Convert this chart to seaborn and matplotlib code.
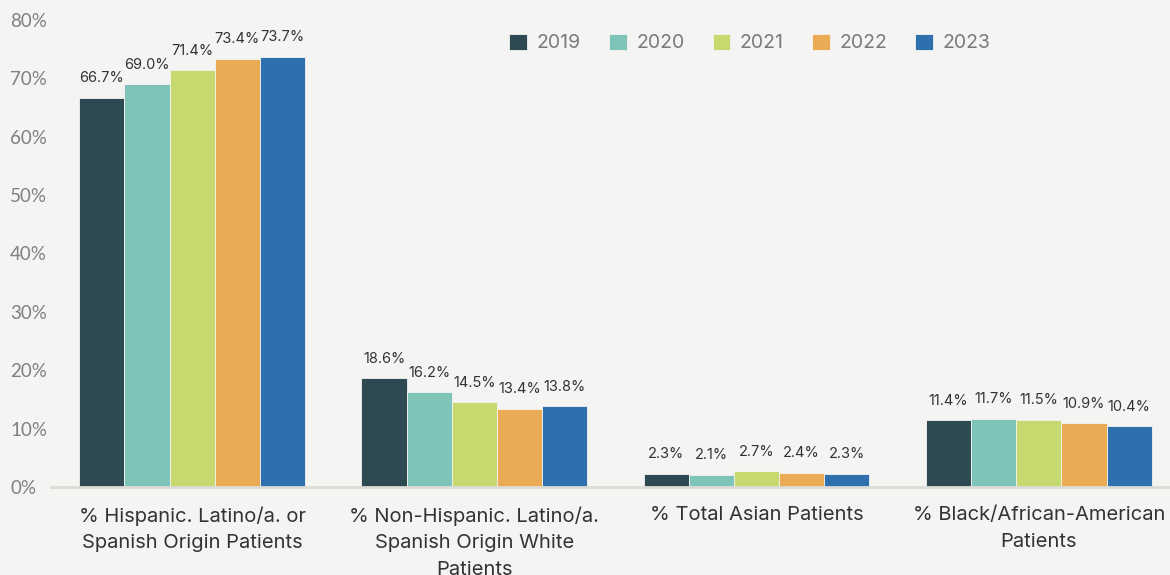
import matplotlib
matplotlib.use("Agg")
import matplotlib.pyplot as plt
import seaborn as sns
import pandas as pd

categories = [
    "% Hispanic. Latino/a. or\nSpanish Origin Patients",
    "% Non-Hispanic. Latino/a.\nSpanish Origin White\nPatients",
    "% Total Asian Patients",
    "% Black/African-American\nPatients",
]
years = ["2019", "2020", "2021", "2022", "2023"]
values_2019 = [66.7, 18.6, 2.3, 11.4]
values_2020 = [69.0, 16.2, 2.1, 11.7]
values_2021 = [71.4, 14.5, 2.7, 11.5]
values_2022 = [73.4, 13.4, 2.4, 10.9]
values_2023 = [73.7, 13.8, 2.3, 10.4]
y_ticks = [0, 10, 20, 30, 40, 50, 60, 70, 80]

colors = ["#2d4a52", "#7fc4b8", "#c6d96f", "#ebab54", "#2e6fad"]
bg = "#f4f4f2"

series = [values_2019, values_2020, values_2021, values_2022, values_2023]
rows = []
for yr, vals in zip(years, series):
    for cat, v in zip(categories, vals):
        rows.append({"category": cat, "year": yr, "value": v})
df = pd.DataFrame(rows)

sns.set_theme(style="white")
plt.rcParams["font.family"] = ["Inter", "DejaVu Sans"]

fig = plt.figure(figsize=(11.7, 5.75), dpi=100, facecolor=bg)
ax = fig.add_axes([51 / 1170, 88 / 575, 1 - 51 / 1170, (487 - 20) / 575])
ax.set_facecolor(bg)

sns.barplot(data=df, x="category", y="value", hue="year", order=categories,
            hue_order=years, palette=colors, saturation=1, width=0.8, gap=0,
            edgecolor=bg, linewidth=0.6, ax=ax, legend=True)

for cont in ax.containers:
    ax.bar_label(cont, labels=[f"{b.get_height():.1f}%" for b in cont],
                 padding=9, fontsize=10.5, color="#333333")

ax.set_ylim(0, 80)
ax.set_xlim(-0.5, 3.465)
ax.set_yticks(y_ticks)
ax.set_yticklabels([f"{t}%" for t in y_ticks], color="#808080", fontsize=13.5,
                   family=["Lato", "DejaVu Sans"], ha="left")
ax.tick_params(axis="y", length=0, pad=29.5)
ax.tick_params(axis="x", length=0, pad=14, labelsize=14.5, labelcolor="#333333")
for lbl in ax.get_xticklabels():
    lbl.set_linespacing(1.6)
ax.set_xlabel("")
ax.set_ylabel("")
for side in ["top", "right", "left"]:
    ax.spines[side].set_visible(False)
ax.spines["bottom"].set_color("#dcdcd6")
ax.spines["bottom"].set_linewidth(2)

handles, labels = ax.get_legend_handles_labels()
ax.legend(handles, labels, loc="center", bbox_to_anchor=(750 / 1170, 1 - 43 / 575),
          bbox_transform=fig.transFigure, ncol=5, frameon=False,
          handlelength=0.9, handleheight=0.9, handletextpad=0.5,
          columnspacing=1.45, fontsize=14, labelcolor="#7a7a7a")

fig.savefig("out.png", dpi=100, facecolor=bg)
